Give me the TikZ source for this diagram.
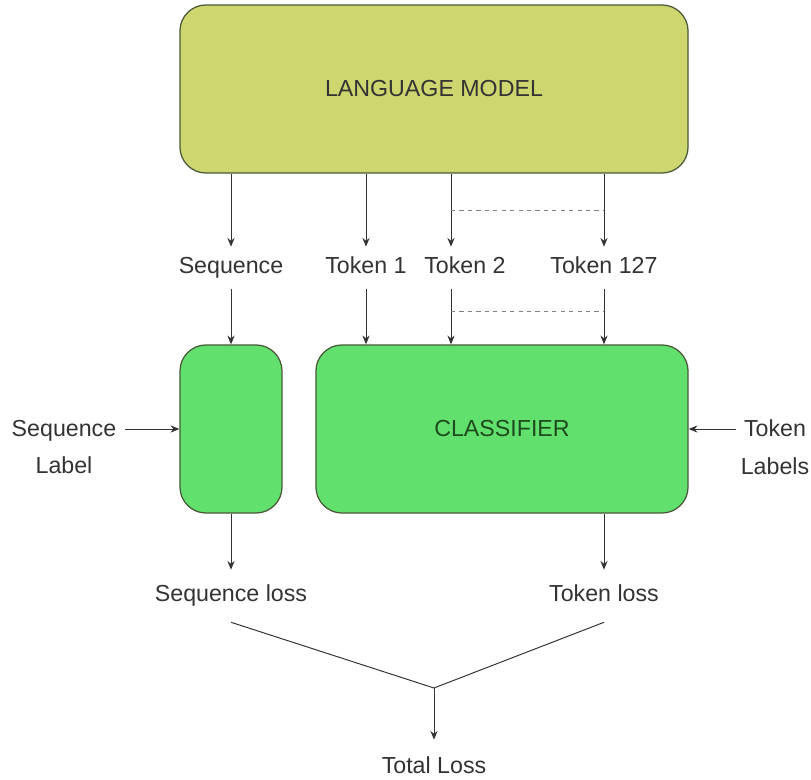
\documentclass[tikz,border=0pt]{standalone}
\usepackage{fontspec}
\setmainfont{Liberation Sans}
\usepackage{xcolor}
\usetikzlibrary{arrows.meta, positioning, calc}
\definecolor{lmgreen}{HTML}{CDD66F}
\definecolor{clsgreen}{HTML}{62E06E}
\definecolor{boxedge}{HTML}{4A5A3A}
\definecolor{inkgray}{HTML}{333333}
\definecolor{clstext}{HTML}{1E4A1E}

\begin{document}
\begin{tikzpicture}[x=0.025cm, y=-0.025cm,
    font=\fontsize{16.5}{27}\selectfont, text=inkgray,
    box/.style={draw=boxedge, line width=0.9pt, rounded corners=0.65cm, minimum height=4.2cm},
    lbl/.style={inner sep=0pt, text height=12pt, text depth=3.5pt, minimum height=1.05cm},
    arr/.style={-{Stealth[length=2.2mm, width=1.8mm]}, draw=inkgray, line width=0.7pt},
    elided/.style={dashed, draw=gray, line width=0.7pt}]
    \useasboundingbox (0,0) rectangle (811,780);

    % Language model
    \node[box, fill=lmgreen, minimum width=12.7cm] (lm) at (434,89) {LANGUAGE MODEL};

    % Model outputs
    \node[lbl] (seq) at (231,268) {Sequence};
    \node[lbl] (tok1) at (366,268) {Token 1};
    \node[lbl] (tok2) at (465,268) {Token 2};
    \node[lbl] (tokn) at (604,268) {Token 127};
    \coordinate (t2) at (451,268); % arrows for token 2 sit left of its label
    \foreach \out in {seq, tok1, tokn}
        \draw[arr] (lm.south -| \out) -- (\out);
    \draw[arr] (lm.south -| t2) -- (t2 |- tok2.north);
    \draw[elided] ($(lm.south -| t2)!0.5!(t2 |- tok2.north)$) -- ($(lm.south -| tokn)!0.5!(tokn.north)$);

    % Heads
    \node[box, fill=clsgreen, minimum width=2.55cm] (sbox) at (231,429) {};
    \node[box, fill=clsgreen, minimum width=9.3cm, text=clstext] (cls) at (502,429) {CLASSIFIER};
    \draw[arr] (seq) -- (seq |- sbox.north);
    \foreach \out in {tok1, tokn}
        \draw[arr] (\out) -- (\out |- cls.north);
    \draw[arr] (t2 |- tok2.south) -- (t2 |- cls.north);
    \draw[elided] ($(t2 |- tok2.south)!0.4!(t2 |- cls.north)$) -- ($(tokn.south)!0.4!(tokn |- cls.north)$);

    % Targets
    \node[align=center, inner xsep=6pt] (seqlab) at (64,447) {Sequence\\Label};
    \node[align=center, inner xsep=3pt] (toklab) at (775,447) {Token\\Labels};
    \draw[arr] (seqlab.east |- sbox.west) -- (sbox.west);
    \draw[arr] (toklab.west |- cls.east) -- (cls.east);

    % Losses
    \node[lbl, minimum height=1.3cm] (sloss) at (231,596) {Sequence loss};
    \node[lbl, minimum height=1.3cm] (tloss) at (604,596) {Token loss};
    \draw[arr] (sbox.south) -- (sloss);
    \draw[arr] (cls.south -| tloss) -- (tloss);

    \coordinate (join) at (434,688);
    \draw[inkgray, line width=0.7pt] (sloss.south) -- (join) -- (tloss.south);
    \node[lbl, minimum height=1.4cm] (total) at (434,768) {Total Loss};
    \draw[arr] (join) -- (total);
\end{tikzpicture}
\end{document}
